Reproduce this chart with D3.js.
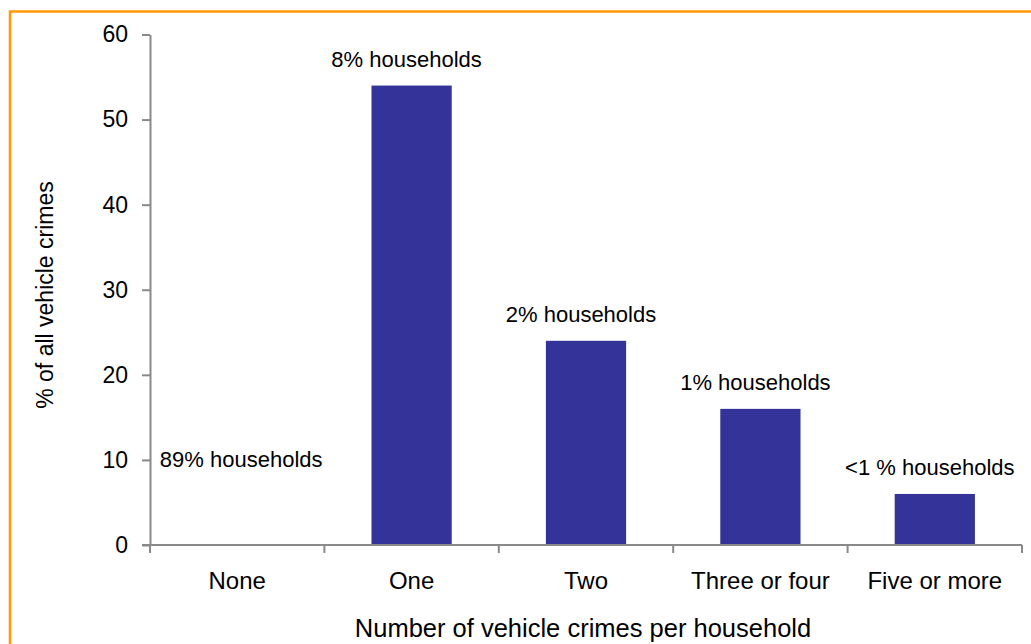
<!DOCTYPE html>
<html>
<head>
<meta charset="utf-8">
<script src="https://cdn.jsdelivr.net/npm/d3@7"></script>
<style>
  html, body { margin: 0; padding: 0; background: #fff; }
  svg { display: block; }
  text { font-family: "Liberation Sans", Arial, sans-serif; fill: #000; }
</style>
</head>
<body>
<svg id="chart" width="1031" height="644"></svg>
<script>
// Share of all vehicle crimes by number of vehicle crimes per household
const categories = ["None", "One", "Two", "Three or four", "Five or more"];
const crimeShare = [0, 54, 24, 16, 6];
const householdLabels = ["89% households", "8% households", "2% households", "1% households", "<1 % households"];
const yTicks = [0, 10, 20, 30, 40, 50, 60];

const svg = d3.select("#chart");
const W = 1031, H = 644;
const margin = { left: 150, right: 9, top: 34.5, bottom: 99 };

// outer frame
svg.append("rect")
  .attr("x", 10).attr("y", 11.5)
  .attr("width", W + 20).attr("height", H + 20)
  .attr("fill", "none").attr("stroke", "#FF9900").attr("stroke-width", 2.5);

const x = d3.scaleBand()
  .domain(categories)
  .range([margin.left, W - margin.right])
  .paddingInner(0.54).paddingOuter(0.27);

const y = d3.scaleLinear()
  .domain([0, 60])
  .range([H - margin.bottom, margin.top]);

const axisColor = "#898989";

// y axis
const yAxis = svg.append("g")
  .attr("transform", `translate(${margin.left},0)`)
  .call(d3.axisLeft(y).tickValues(yTicks).tickSize(8).tickPadding(14).tickSizeOuter(0));
yAxis.select(".domain").attr("stroke", axisColor).attr("stroke-width", 2);
yAxis.selectAll(".tick line").attr("stroke", axisColor).attr("stroke-width", 2);
yAxis.selectAll(".tick text").attr("font-size", 23).attr("fill", "#000")
  .attr("font-family", "Liberation Sans, Arial, sans-serif");

// bars
svg.append("g").selectAll("rect")
  .data(categories.map((c, i) => ({ c, v: crimeShare[i] })))
  .join("rect")
  .attr("x", d => x(d.c))
  .attr("width", x.bandwidth())
  .attr("y", d => y(d.v))
  .attr("height", d => y(0) - y(d.v))
  .attr("fill", "#333399");

// x axis: ticks sit on category boundaries
const xEdges = d3.range(categories.length + 1)
  .map(i => margin.left + i * (W - margin.right - margin.left) / categories.length);
const xAxis = svg.append("g");
xAxis.append("line")
  .attr("x1", margin.left - 8).attr("x2", W - margin.right)
  .attr("y1", y(0)).attr("y2", y(0))
  .attr("stroke", axisColor).attr("stroke-width", 2);
xAxis.selectAll("line.tk")
  .data(xEdges)
  .join("line").attr("class", "tk")
  .attr("x1", d => d).attr("x2", d => d)
  .attr("y1", y(0)).attr("y2", y(0) + 8)
  .attr("stroke", axisColor).attr("stroke-width", 2);
xAxis.selectAll("text")
  .data(categories)
  .join("text")
  .attr("x", d => x(d) + x.bandwidth() / 2)
  .attr("y", y(0) + 44)
  .attr("text-anchor", "middle")
  .attr("font-size", 24)
  .text(d => d);

// household share labels above each bar (the empty first bar gets its label floated)
svg.append("g").selectAll("text")
  .data(categories.map((c, i) => ({ c, v: crimeShare[i], t: householdLabels[i] })))
  .join("text")
  .attr("x", d => x(d.c) + x.bandwidth() / 2 + (d.v > 0 ? -5 : 4))
  .attr("y", d => d.v > 0 ? y(d.v) - 19 : y(9.2))
  .attr("text-anchor", "middle")
  .attr("font-size", 22)
  .text(d => d.t);

// axis titles
svg.append("text")
  .attr("x", (margin.left + W - margin.right) / 2 - 3)
  .attr("y", 637)
  .attr("text-anchor", "middle")
  .attr("font-size", 25.5)
  .text("Number of vehicle crimes per household");

svg.append("text")
  .attr("transform", `translate(53,295) rotate(-90)`)
  .attr("text-anchor", "middle")
  .attr("font-size", 23)
  .text("% of all vehicle crimes");
</script>
</body>
</html>
